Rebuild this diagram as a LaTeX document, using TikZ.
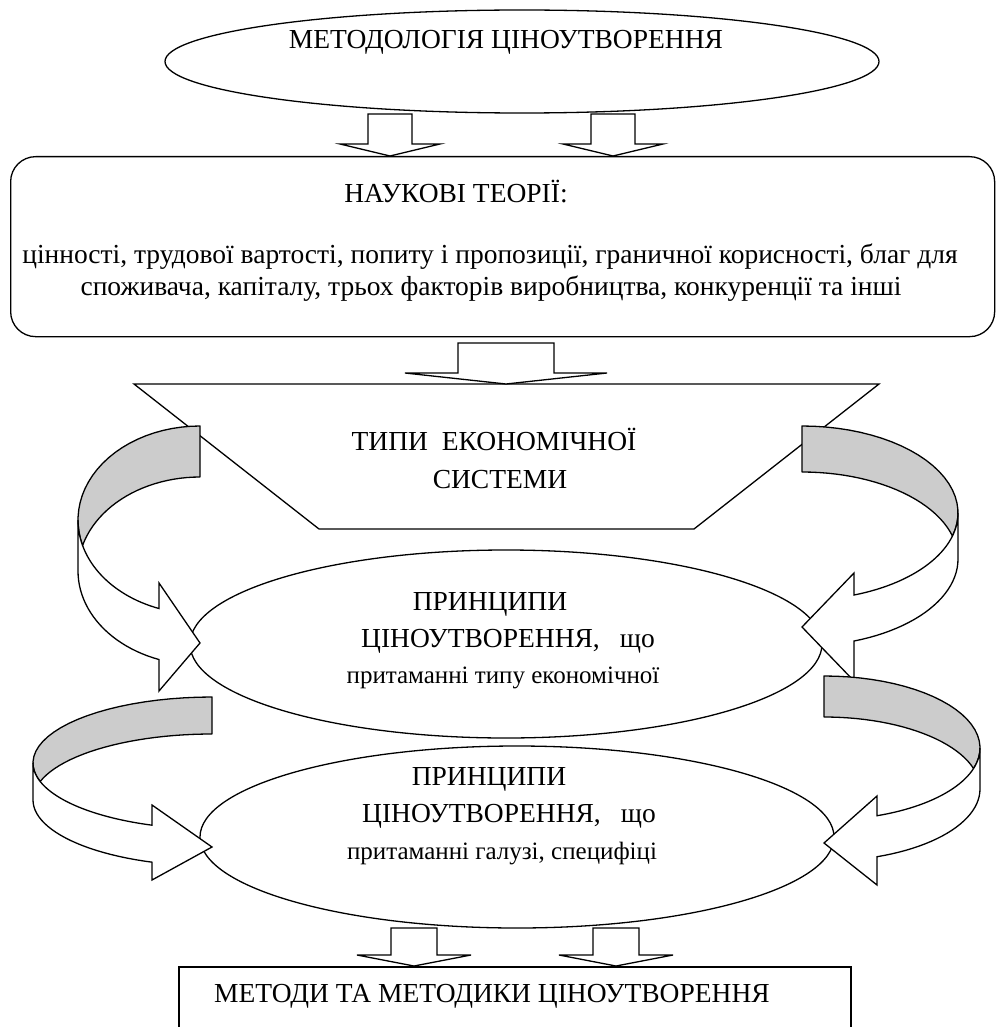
\documentclass[tikz,border=0pt]{standalone}
\usepackage{fontspec}
\setmainfont{Liberation Serif}
\usetikzlibrary{shapes.geometric}
\definecolor{band}{HTML}{CCCCCC}

% Ribbon-like curved arrow bending round the left side: the shaded part is
% the back of the ribbon, the white part carries the arrow head.
% #1 x of ellipse centres, #2 x radius, #3 y radius, #4 y of upper ellipse centre,
% #5 ribbon thickness, #6 x of the head base, #7 upper wing y, #8 tip y, #9 lower wing y
\newcommand\ribbonleft[9]{%
  \pgfmathsetmacro\rbCx{#1}\pgfmathsetmacro\rbRx{#2}\pgfmathsetmacro\rbRy{#3}%
  \pgfmathsetmacro\rbYa{#4}\pgfmathsetmacro\rbYb{#4+#5}%
  \pgfmathsetmacro\rbS{asin((#5/2)/#3)}%
  \pgfmathsetmacro\rbN{acos((#6-#1)/#2)}%
  \pgfmathsetmacro\rbTa{180-\rbS}\pgfmathsetmacro\rbTb{180+\rbS}%
  \draw[back] plot[domain=270:\rbTa] ({\rbCx+\rbRx*cos(\x)},{\rbYa+\rbRy*sin(\x)})
     -- plot[domain=\rbTb:270] ({\rbCx+\rbRx*cos(\x)},{\rbYb+\rbRy*sin(\x)}) -- cycle;
  \draw[front] plot[domain=\rbTa:\rbN] ({\rbCx+\rbRx*cos(\x)},{\rbYa+\rbRy*sin(\x)})
     -- (#6,#7) -- (\rbCx,#8) -- (#6,#9)
     -- plot[domain=\rbN:180] ({\rbCx+\rbRx*cos(\x)},{\rbYb+\rbRy*sin(\x)})
     -- plot[domain=180:\rbTa] ({\rbCx+\rbRx*cos(\x)},{\rbYa+\rbRy*sin(\x)}) -- cycle;
}
% The same arrow bending round the right side.
\newcommand\ribbonright[9]{%
  \pgfmathsetmacro\rbCx{#1}\pgfmathsetmacro\rbRx{#2}\pgfmathsetmacro\rbRy{#3}%
  \pgfmathsetmacro\rbYa{#4}\pgfmathsetmacro\rbYb{#4+#5}%
  \pgfmathsetmacro\rbS{asin((#5/2)/#3)}%
  \pgfmathsetmacro\rbN{acos((#6-#1)/#2)}%
  \pgfmathsetmacro\rbTb{-\rbS}%
  \draw[back] plot[domain=-90:\rbS] ({\rbCx+\rbRx*cos(\x)},{\rbYa+\rbRy*sin(\x)})
     -- plot[domain=\rbTb:-90] ({\rbCx+\rbRx*cos(\x)},{\rbYb+\rbRy*sin(\x)}) -- cycle;
  \draw[front] plot[domain=\rbS:\rbN] ({\rbCx+\rbRx*cos(\x)},{\rbYa+\rbRy*sin(\x)})
     -- (#6,#7) -- (\rbCx,#8) -- (#6,#9)
     -- plot[domain=\rbN:0] ({\rbCx+\rbRx*cos(\x)},{\rbYb+\rbRy*sin(\x)})
     -- plot[domain=0:\rbS] ({\rbCx+\rbRx*cos(\x)},{\rbYa+\rbRy*sin(\x)}) -- cycle;
}
% Hollow block arrow pointing down: centre x, top y, head base y, tip y,
% half shaft width, half head width
\newcommand\blockdown[6]{%
  \draw[front] ({#1-#5},#2) -- ({#1+#5},#2) -- ({#1+#5},#3) -- ({#1+#6},#3)
    -- (#1,#4) -- ({#1-#6},#3) -- ({#1-#5},#3) -- cycle;
}

\begin{document}
\begin{tikzpicture}[x=1pt,y=-1pt,
  shapeline/.style={draw=black, line width=1.3pt, fill=white},
  back/.style={draw=black, line width=1.3pt, fill=band, line join=round},
  front/.style={draw=black, line width=1.3pt, fill=white, line join=miter},
  oval/.style={shapeline, ellipse, inner sep=0pt},
  lbl/.style={font=\fontsize{27.5}{32}\selectfont, inner sep=0pt, anchor=base},
  lblsmall/.style={lbl, font=\fontsize{25}{30}\selectfont},
]
\useasboundingbox (0,0) rectangle (997,1027);

% ---- methodology
\node[oval, minimum width=714, minimum height=103] (meth) at (522,61.5) {};
\node[lbl] (meth-t) at (506,49) {МЕТОДОЛОГІЯ ЦІНОУТВОРЕННЯ};

% ---- scientific theories
\node[shapeline, rounded corners=25, minimum width=984, minimum height=180,
      inner sep=0pt, anchor=north west] (theo) at (10,156) {};
\node[lbl] (theo-h) at (456,202) {НАУКОВІ ТЕОРІЇ:};
\node[lbl] (theo-1) at (490,263) {цінності, трудової вартості, попиту і пропозиції, граничної корисності, благ для};
\node[lbl] (theo-2) at (491,295) {споживача, капіталу, трьох факторів виробництва, конкуренції та інші};

\blockdown{390}{114}{144}{156}{22}{50}
\blockdown{613}{114}{144}{156}{22}{50}

% ---- types of economic system
\coordinate (tz-a) at (134,384);
\coordinate (tz-b) at (879,384);
\coordinate (tz-c) at (694,529);
\coordinate (tz-d) at (319,529);
\draw[shapeline] (tz-a) -- (tz-b) -- (tz-c) -- (tz-d) -- cycle;
\node[lbl] (type-1) at (494,450) {ТИПИ\hspace{7pt} ЕКОНОМІЧНОЇ};
\node[lbl] (type-2) at (500,488) {СИСТЕМИ};

\blockdown{506}{343}{373}{384}{48}{101}

% ---- principles of the economic system type
\node[oval, minimum width=632, minimum height=188] (prin1) at (506,644) {};
\node[lbl] (prin1-a) at (490,610) {ПРИНЦИПИ};
\node[lbl] (prin1-b) at (508,647) {ЦІНОУТВОРЕННЯ,\hspace{20pt}що};
\node[lblsmall] (prin1-c) at (503,683) {притаманні типу економічної};

% ---- principles of the branch
\node[oval, minimum width=634, minimum height=182] (prin2) at (517,837) {};
\node[lbl] (prin2-a) at (489,785) {ПРИНЦИПИ};
\node[lbl] (prin2-b) at (509,822) {ЦІНОУТВОРЕННЯ,\hspace{20pt}що};
\node[lblsmall] (prin2-c) at (502,859) {притаманні галузі, специфіці};

\blockdown{414}{928}{955}{966}{23}{57}
\blockdown{616}{928}{955}{966}{23}{57}

% ---- methods
\node[draw=black, line width=2.2pt, fill=white, minimum width=672, minimum height=90,
      inner sep=0pt, anchor=north west] (meth-box) at (178,966) {};
\node[lbl] (meth-box-t) at (492,1002) {МЕТОДИ ТА МЕТОДИКИ ЦІНОУТВОРЕННЯ};

% ---- curved feedback arrows
\ribbonleft{200}{122}{94}{520}{51}{159}{583}{643}{691}
\ribbonright{802}{156}{87}{513}{46}{854}{573}{627}{681}
\ribbonleft{212}{179}{66}{763}{37}{152}{805}{847}{880}
\ribbonright{824}{156}{72}{748}{41}{877}{796}{843}{885}
\end{tikzpicture}
\end{document}
